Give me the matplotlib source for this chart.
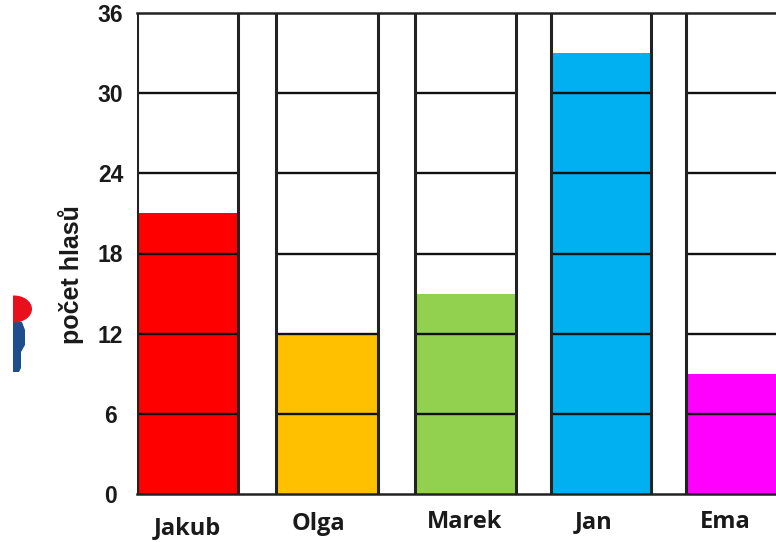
import matplotlib
matplotlib.use("Agg")
import matplotlib.pyplot as plt
from matplotlib.patches import Ellipse, Polygon, Rectangle

names = ["Jakub", "Olga", "Marek", "Jan", "Ema"]
votes = [21, 12, 15, 33, 9]
colors = ["#FF0000", "#FFC000", "#92D050", "#00B0F0", "#FF00FF"]
y_ticks = [0, 6, 12, 18, 24, 30, 36]

# column edges + label spots, all in image pixels
col_left = [137, 276, 415, 551, 686]
col_right = [238, 378, 516, 651, 790]
label_x = [187, 318, 465, 594, 725]
label_y = [528, 524, 522, 522, 522]

W, H = 776, 542
fig = plt.figure(figsize=(W / 100, H / 100), dpi=100)
ax = fig.add_axes([137 / W, (H - 494) / H, (W - 137) / W, (494 - 13) / H])
ax.set_xlim(137, 776)
ax.set_ylim(0, 36)

line = "#222222"
for i in range(len(names)):
    ax.bar(col_left[i], votes[i], width=col_right[i] - col_left[i], align="edge",
           color=colors[i], zorder=1, clip_on=False)
    ax.hlines(y_ticks[1:-1], col_left[i], col_right[i], color="#111111", lw=1.7, zorder=2)
    ax.vlines([col_left[i], col_right[i]], 0, 36, color=line, lw=2.2, zorder=3)

for s in ["right", "left"]:
    ax.spines[s].set_visible(False)
for s in ["top", "bottom"]:
    ax.spines[s].set_linewidth(1.8)
    ax.spines[s].set_color(line)
    ax.spines[s].set_zorder(4)

ax.set_xticks([])
ax.set_yticks(y_ticks)
ax.tick_params(axis="y", length=0, pad=19)
for t in ax.get_yticklabels():
    t.set_ha("center")
    t.set_fontfamily("Liberation Sans")
    t.set_fontweight("bold")
    t.set_fontsize(16.5)
    t.set_color("#1a1a1a")

# overlay in pixel coords for the loose labels and the clipped figure at the left
ov = fig.add_axes([0, 0, 1, 1], facecolor="none")
ov.set_xlim(0, W)
ov.set_ylim(H, 0)
ov.axis("off")

for i in range(len(names)):
    ov.text(label_x[i], label_y[i], names[i], ha="center", va="center",
            family="Open Sans", fontweight="bold", fontsize=17, color="#1a1a1a")

ov.text(71, 275, "počet hlasů", rotation=90, ha="center", va="center",
        family="Liberation Sans", fontweight="bold", fontsize=18, color="#1a1a1a")

clip = Rectangle((13, 290), 30, 90, transform=ov.transData, fc="none", ec="none")
ov.add_patch(clip)
red = Ellipse((14, 309), 36, 27, fc="#E8101C", ec="none", zorder=2)
body = Polygon([(13, 320), (22, 322), (25, 330), (25, 345), (21, 352), (21, 368), (19, 372), (13, 372)],
               closed=True, fc="#1F4E8C", ec="none", zorder=1)
for p in [red, body]:
    ov.add_patch(p)
    p.set_clip_path(clip)

fig.savefig("out.png", dpi=100)
